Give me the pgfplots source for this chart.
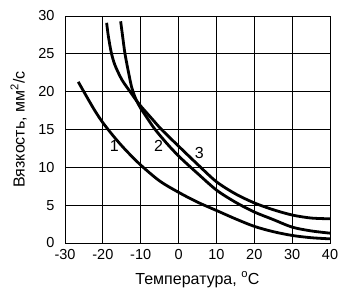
\documentclass[border=0pt]{standalone}
\usepackage{fontspec}
\setmainfont{Liberation Sans}
\usepackage{pgfplots}
\pgfplotsset{compat=1.18}
\begin{document}
\begin{tikzpicture}
\path[use as bounding box] (-65pt,-57pt) rectangle (287pt,243pt);
\begin{axis}[
  at={(0,0)}, anchor=south west,
  width=265pt, height=227pt, scale only axis,
  xmin=-30, xmax=40, ymin=0, ymax=30,
  xtick={-30,-20,-10,0,10,20,30,40}, ytick={0,5,10,15,20,25,30},
  xticklabels={-30,-20,-10,0,10,20,30,40},
  yticklabels={0,5,10,15,20,25,30},
  major tick length=0pt,
  grid=major,
  major grid style={black, line width=1pt},
  axis line style={black, line width=1pt},
  tick label style={font=\fontsize{14.5}{17}\selectfont},
  xticklabel style={yshift=-3pt},
  yticklabel style={xshift=-7pt},
  label style={font=\fontsize{16}{19}\selectfont},
  xlabel={Температура, \textsuperscript{o}C},
  ylabel={Вязкость, мм\textsuperscript{2}/с},
  xlabel style={at={(axis description cs:0.5,-0.1806)}, anchor=base},
  ylabel style={at={(axis description cs:-0.152,0.5)}, anchor=base},
]
\addplot[black, line width=2.8pt, smooth] coordinates {(-26.5,21.3) (-24,19.1) (-22,17.4) (-20,15.9) (-17,14.0) (-14,12.3) (-10,10.3) (-5,8.2) (0,6.7) (5,5.4) (10,4.3) (15,3.2) (20,2.2) (25,1.5) (30,1.0) (35,0.7) (40,0.55)};
\addplot[black, line width=2.8pt, smooth] coordinates {(-15.3,29.3) (-14.8,27.4) (-14.15,25) (-13.2,22.5) (-12.4,20.6) (-11.6,19.4) (-11.1,18.8) (-10,17.8) (-8,16.3) (-6.2,15.0) (-3,13.1) (0,11.5) (3,10.1) (5,9.2) (10,7.0) (15,5.4) (20,4.1) (25,3.1) (30,2.1) (35,1.6) (40,1.3)};
\addplot[black, line width=2.8pt, smooth] coordinates {(-19,29.1) (-18.6,27.5) (-18.1,26.0) (-17.7,25.0) (-16.8,23.5) (-15,21.6) (-12.8,20.0) (-11.1,18.8) (-10,18.1) (-7,16.4) (-4.5,15.0) (0,12.8) (5,10.4) (10,8.1) (15,6.5) (20,5.3) (25,4.4) (30,3.7) (35,3.3) (40,3.2)};
\node[font=\fontsize{16}{19}\selectfont] at (axis cs:-17.0,12.85) {1};
\node[font=\fontsize{16}{19}\selectfont] at (axis cs:-5.3,12.85) {2};
\node[font=\fontsize{16}{19}\selectfont] at (axis cs:5.47,11.95) {3};
\end{axis}
\end{tikzpicture}
\end{document}
